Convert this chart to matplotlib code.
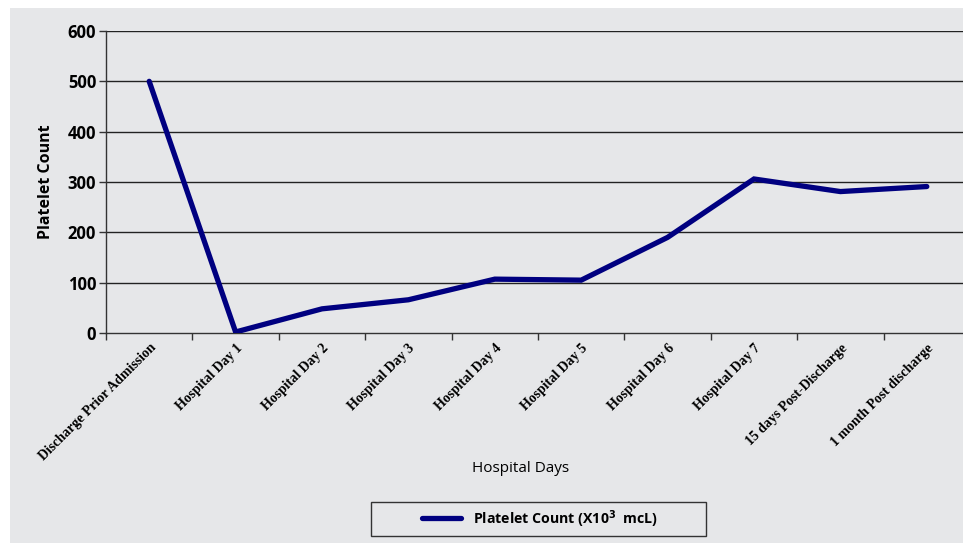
import numpy as np
import matplotlib
matplotlib.use("Agg")
import matplotlib.pyplot as plt
from matplotlib.patches import Rectangle
from matplotlib.lines import Line2D

# Données
categories = ["Discharge Prior Admission", "Hospital Day 1", "Hospital Day 2",
              "Hospital Day 3", "Hospital Day 4", "Hospital Day 5", "Hospital Day 6",
              "Hospital Day 7", "15 days Post-Discharge", "1 month Post discharge"]
platelets = [500, 2, 48, 66, 107, 105, 190, 306, 281, 291]
yticks = [0, 100, 200, 300, 400, 500, 600]

W, H = 963, 543
fig = plt.figure(figsize=(W / 100, H / 100), dpi=100)
fig.patch.set_facecolor("white")
bg = "#e6e7e9"

# Fond gris (panneau)
fig.patches.append(Rectangle((10 / W, 0), 1, 1 - 8 / H, transform=fig.transFigure,
                             facecolor=bg, edgecolor="none", zorder=-10))

# Axes (coordonnées en pixels -> fractions)
left, right, top, bottom = 106, 970, 31, 333
ax = fig.add_axes([left / W, 1 - bottom / H, (right - left) / W, (bottom - top) / H])
ax.set_facecolor(bg)

x = np.arange(len(categories))
ax.plot(x, platelets, color="#000080", lw=3.8, solid_capstyle="round",
        solid_joinstyle="miter", zorder=3)

ax.set_xlim(-0.5, len(categories) - 0.5)
ax.set_ylim(0, 600)
ax.set_yticks(yticks)
ax.set_yticklabels([str(v) for v in yticks], fontfamily="Open Sans",
                   fontweight="bold", fontsize=12)
for v in yticks[1:]:
    ax.axhline(v, color="#222222", lw=1.0, zorder=1)

# Graduations entre catégories (style Excel)
ax.set_xticks(np.arange(len(categories)) - 0.5, minor=False)
ax.set_xticklabels([])
ax.set_xticks(x, minor=True)
ax.set_xticklabels(categories, minor=True, rotation=45, ha="right",
                   rotation_mode="anchor", fontfamily="Liberation Serif",
                   fontweight="bold", fontsize=10)
ax.tick_params(axis="x", which="minor", length=0, pad=6)
ax.tick_params(axis="x", which="major", length=5, width=1, color="#333333",
               direction="out")
ax.tick_params(axis="y", length=5, width=1, color="#333333", pad=2)

for s in ["top", "right"]:
    ax.spines[s].set_visible(False)
for s in ["left", "bottom"]:
    ax.spines[s].set_color("#333333")
    ax.spines[s].set_linewidth(1.0)

ax.set_ylabel("Platelet Count", fontfamily="Open Sans", fontweight="bold",
              fontsize=11.5, labelpad=10)
fig.text(521 / W, 1 - 468 / H, "Hospital Days", fontfamily="Open Sans",
         fontsize=11, ha="center", va="center")

# Légende
fig.patches.append(Rectangle((371 / W, 1 - 536 / H), (706 - 371) / W, (536 - 502) / H,
                             transform=fig.transFigure, facecolor=bg,
                             edgecolor="#333333", lw=1.0))
fig.lines.append(Line2D([422 / W, 461 / W], [1 - 518 / H, 1 - 518 / H],
                        transform=fig.transFigure, color="#000080", lw=3.8,
                        solid_capstyle="round"))
fig.text(473 / W, 1 - 519 / H, r"Platelet Count (X10$^{\mathbf{3}}$  mcL)",
         fontfamily="Open Sans", fontweight="bold", fontsize=10.2, va="center")

fig.savefig("out.png", dpi=100, facecolor=fig.get_facecolor())
